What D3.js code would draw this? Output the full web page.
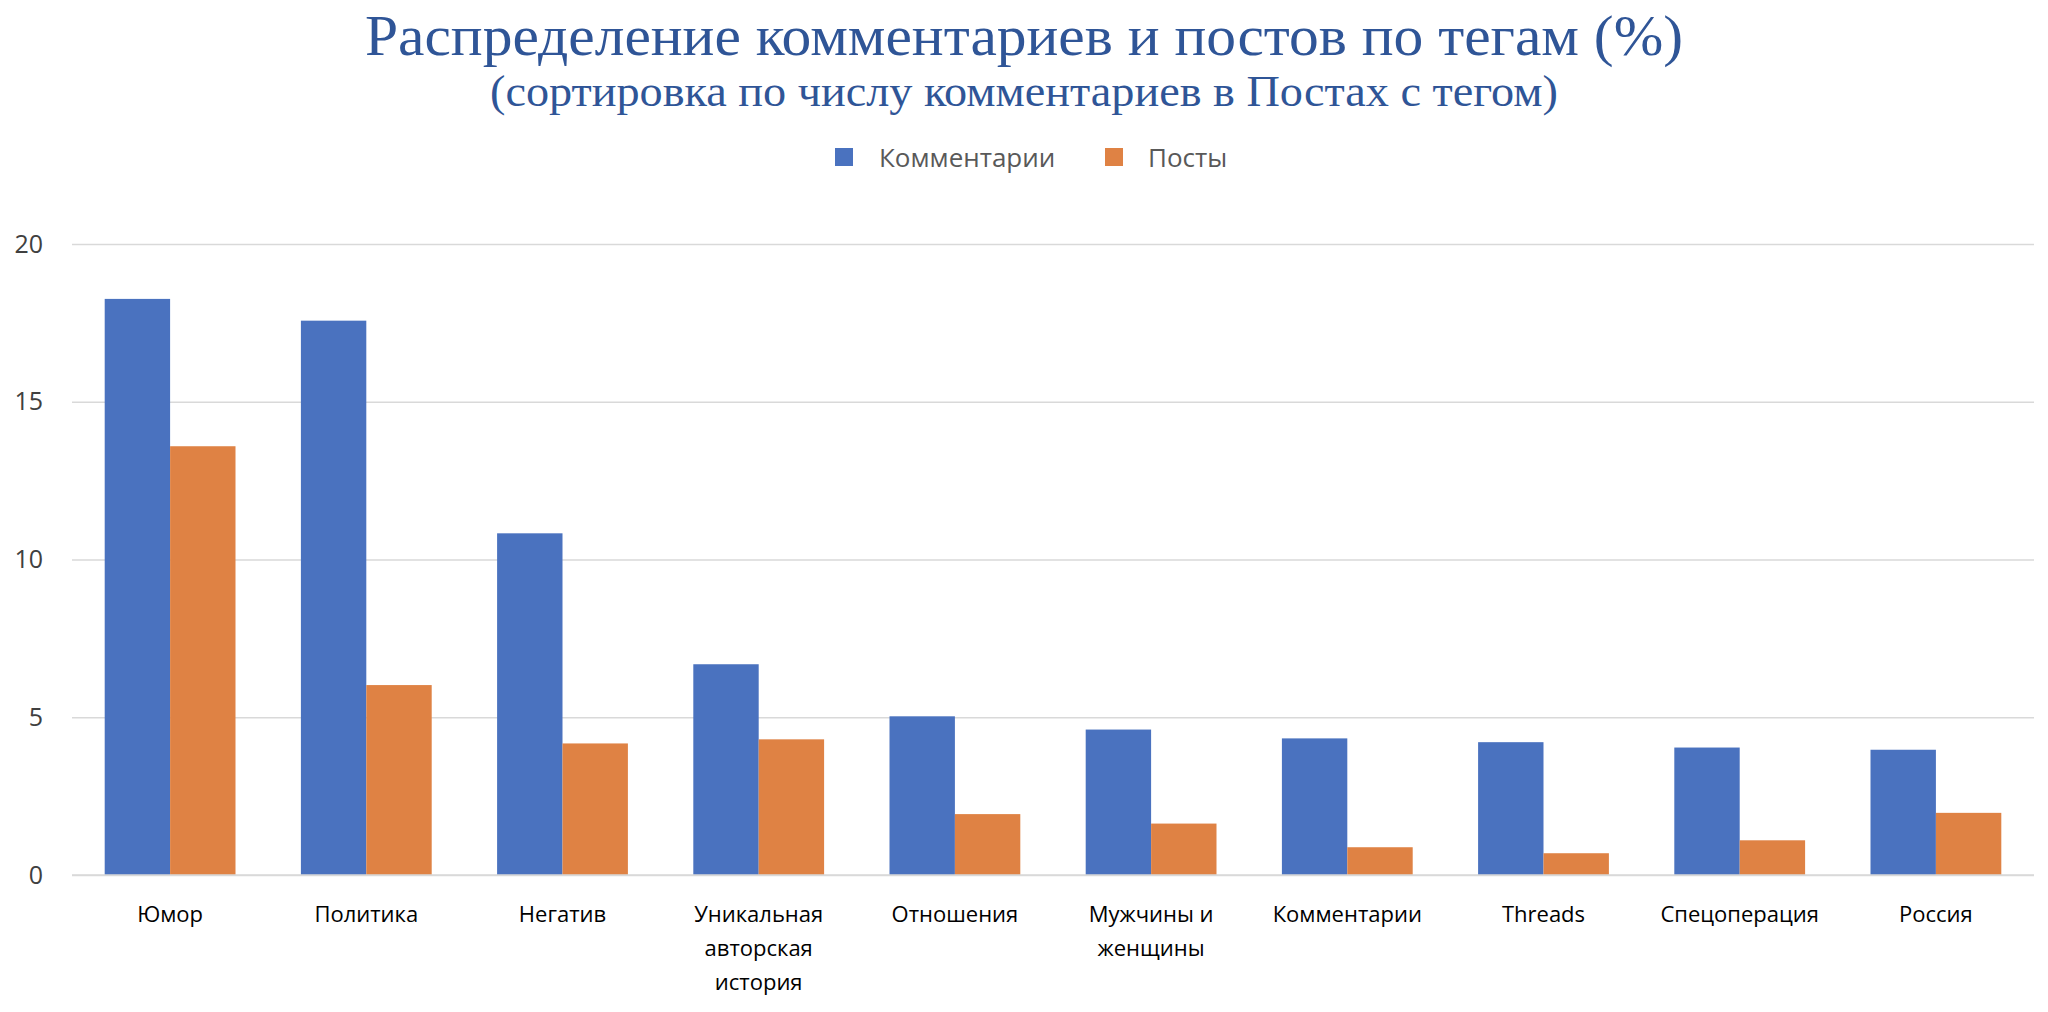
<!DOCTYPE html>
<html>
<head>
<meta charset="utf-8">
<script src="https://cdn.jsdelivr.net/npm/d3@7"></script>
<style>
  html, body { margin: 0; padding: 0; background: #fff; }
  svg { display: block; }
</style>
</head>
<body>
<svg id="chart" width="2048" height="1012"></svg>
<script>
const titleText = "Распределение комментариев и постов по тегам (%)";
const subtitleText = "(сортировка по числу комментариев в Постах с тегом)";
const seriesNames = ["Комментарии", "Посты"];
const seriesColors = ["#4A72BF", "#DF8244"];
const categories = ["Юмор", "Политика", "Негатив", "Уникальная авторская история", "Отношения",
  "Мужчины и женщины", "Комментарии", "Threads", "Спецоперация", "Россия"];
const categoryLines = [["Юмор"], ["Политика"], ["Негатив"], ["Уникальная", "авторская", "история"],
  ["Отношения"], ["Мужчины и", "женщины"], ["Комментарии"], ["Threads"], ["Спецоперация"], ["Россия"]];
const commentValues = [18.26, 17.57, 10.83, 6.68, 5.03, 4.61, 4.33, 4.21, 4.04, 3.97];
const postValues = [13.59, 6.02, 4.17, 4.30, 1.93, 1.63, 0.88, 0.69, 1.10, 1.97];
const yTicks = [0, 5, 10, 15, 20];

const svg = d3.select("#chart");
const W = 2048, H = 1012;
const margin = { left: 72, right: 14, top: 244, bottom: 137 };

const x = d3.scaleBand().domain(categories)
  .range([margin.left, W - margin.right])
  .paddingInner(1 / 3).paddingOuter(1 / 6);
const xs = d3.scaleBand().domain(seriesNames).range([0, x.bandwidth()]);
const y = d3.scaleLinear().domain([0, 20]).range([H - margin.bottom, margin.top]);

// Title
svg.append("text")
  .attr("x", W / 2).attr("y", 55)
  .attr("text-anchor", "middle")
  .attr("font-family", "'Liberation Serif', 'DejaVu Serif', serif")
  .attr("font-size", 56)
  .attr("fill", "#2F5597")
  .attr("textLength", 1318).attr("lengthAdjust", "spacingAndGlyphs")
  .text(titleText);
svg.append("text")
  .attr("x", W / 2).attr("y", 106)
  .attr("text-anchor", "middle")
  .attr("font-family", "'Liberation Serif', 'DejaVu Serif', serif")
  .attr("font-size", 44)
  .attr("fill", "#2F5597")
  .attr("textLength", 1068).attr("lengthAdjust", "spacingAndGlyphs")
  .text(subtitleText);

// Legend
const legendItems = [
  { name: seriesNames[0], color: seriesColors[0], sx: 835, tx: 879 },
  { name: seriesNames[1], color: seriesColors[1], sx: 1105, tx: 1148 }
];
const lg = svg.append("g");
lg.selectAll("rect").data(legendItems).join("rect")
  .attr("x", d => d.sx).attr("y", 148).attr("width", 18).attr("height", 18)
  .attr("fill", d => d.color);
lg.selectAll("text").data(legendItems).join("text")
  .attr("x", d => d.tx).attr("y", 167)
  .attr("font-family", "'Open Sans', 'Noto Sans', sans-serif")
  .attr("font-size", 26)
  .attr("fill", "#595959")
  .text(d => d.name);

// Gridlines
const yAxis = d3.axisLeft(y).tickValues(yTicks).tickSize(-(W - margin.right - margin.left)).tickPadding(29);
const gy = svg.append("g").attr("transform", `translate(${margin.left},0)`).call(yAxis);
gy.select(".domain").remove();
gy.selectAll(".tick line").attr("stroke", "#D9D9D9").attr("stroke-width", 1.4);
gy.selectAll(".tick text")
  .attr("font-family", "'Open Sans', 'Noto Sans', sans-serif")
  .attr("font-size", 25)
  .attr("fill", "#404040");

// Bars
const data = categories.map((c, i) => ({ cat: c, values: [commentValues[i], postValues[i]] }));
const groups = svg.append("g").selectAll("g").data(data).join("g")
  .attr("transform", d => `translate(${x(d.cat)},0)`);
groups.selectAll("rect")
  .data(d => d.values.map((v, j) => ({ series: seriesNames[j], value: v, color: seriesColors[j] })))
  .join("rect")
  .attr("x", d => xs(d.series))
  .attr("width", xs.bandwidth())
  .attr("y", d => y(d.value))
  .attr("height", d => y(0) - y(d.value))
  .attr("fill", d => d.color);

// X axis line (zero line drawn over bars)
svg.append("line")
  .attr("x1", margin.left).attr("x2", W - margin.right)
  .attr("y1", y(0)).attr("y2", y(0))
  .attr("stroke", "#D9D9D9").attr("stroke-width", 1.4);

// X labels
const xl = svg.append("g");
categories.forEach((c, i) => {
  const t = xl.append("text")
    .attr("x", x(c) + x.bandwidth() / 2)
    .attr("y", 922)
    .attr("text-anchor", "middle")
    .attr("font-family", "'Open Sans', 'Noto Sans', sans-serif")
    .attr("font-size", 22)
    .attr("fill", "#000");
  categoryLines[i].forEach((line, k) => {
    t.append("tspan").attr("x", x(c) + x.bandwidth() / 2).attr("dy", k === 0 ? 0 : 34).text(line);
  });
});
</script>
</body>
</html>
